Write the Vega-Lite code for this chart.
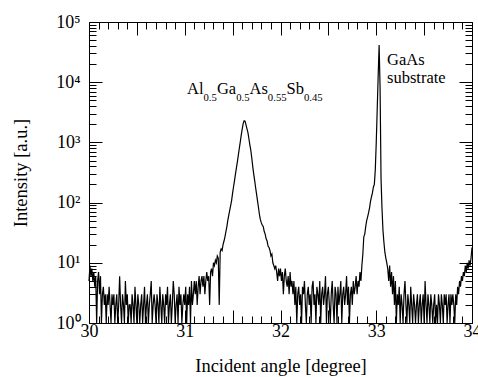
{
"$schema":"https://vega.github.io/schema/vega-lite/v6.json",
"autosize":"none",
"width":383,"height":301,
"padding":{"left":89,"top":22,"right":6,"bottom":54},
"background":"white",
"config":{"font":"Liberation Serif","view":{"stroke":null},"text":{"font":"Liberation Serif"},"axis":{"labelFont":"Liberation Serif","titleFont":"Liberation Serif"}},
"datasets":{
"xrd":[
{"angle":30.00,"intensity":5},{"angle":30.01,"intensity":9},{"angle":30.02,"intensity":6},{"angle":30.03,"intensity":8},{"angle":30.04,"intensity":5},{"angle":30.05,"intensity":7},{"angle":30.06,"intensity":4},{"angle":30.07,"intensity":6},{"angle":30.08,"intensity":1},{"angle":30.09,"intensity":5},
{"angle":30.10,"intensity":7},{"angle":30.11,"intensity":3},{"angle":30.12,"intensity":6},{"angle":30.13,"intensity":1},{"angle":30.14,"intensity":3},{"angle":30.15,"intensity":4},{"angle":30.16,"intensity":2},{"angle":30.17,"intensity":3},{"angle":30.18,"intensity":1},{"angle":30.19,"intensity":3},
{"angle":30.20,"intensity":2},{"angle":30.21,"intensity":4},{"angle":30.22,"intensity":2},{"angle":30.23,"intensity":1},{"angle":30.24,"intensity":3},{"angle":30.25,"intensity":2},{"angle":30.26,"intensity":3},{"angle":30.27,"intensity":1},{"angle":30.28,"intensity":2},{"angle":30.29,"intensity":3},
{"angle":30.30,"intensity":1},{"angle":30.31,"intensity":2},{"angle":30.32,"intensity":6},{"angle":30.33,"intensity":2},{"angle":30.34,"intensity":1},{"angle":30.35,"intensity":3},{"angle":30.36,"intensity":2},{"angle":30.37,"intensity":1},{"angle":30.38,"intensity":5},{"angle":30.39,"intensity":2},
{"angle":30.40,"intensity":3},{"angle":30.41,"intensity":1},{"angle":30.42,"intensity":2},{"angle":30.43,"intensity":2},{"angle":30.44,"intensity":1},{"angle":30.45,"intensity":3},{"angle":30.46,"intensity":2},{"angle":30.47,"intensity":1},{"angle":30.48,"intensity":4},{"angle":30.49,"intensity":2},
{"angle":30.50,"intensity":1},{"angle":30.51,"intensity":3},{"angle":30.52,"intensity":2},{"angle":30.53,"intensity":1},{"angle":30.54,"intensity":2},{"angle":30.55,"intensity":3},{"angle":30.56,"intensity":1},{"angle":30.57,"intensity":2},{"angle":30.58,"intensity":4},{"angle":30.59,"intensity":1},
{"angle":30.60,"intensity":2},{"angle":30.61,"intensity":3},{"angle":30.62,"intensity":1},{"angle":30.63,"intensity":2},{"angle":30.64,"intensity":3},{"angle":30.65,"intensity":5},{"angle":30.66,"intensity":1},{"angle":30.67,"intensity":2},{"angle":30.68,"intensity":3},{"angle":30.69,"intensity":2},
{"angle":30.70,"intensity":1},{"angle":30.71,"intensity":3},{"angle":30.72,"intensity":2},{"angle":30.73,"intensity":1},{"angle":30.74,"intensity":4},{"angle":30.75,"intensity":2},{"angle":30.76,"intensity":1},{"angle":30.77,"intensity":3},{"angle":30.78,"intensity":2},{"angle":30.79,"intensity":1},
{"angle":30.80,"intensity":3},{"angle":30.81,"intensity":2},{"angle":30.82,"intensity":4},{"angle":30.83,"intensity":1},{"angle":30.84,"intensity":2},{"angle":30.85,"intensity":3},{"angle":30.86,"intensity":1},{"angle":30.87,"intensity":2},{"angle":30.88,"intensity":5},{"angle":30.89,"intensity":3},
{"angle":30.90,"intensity":1},{"angle":30.91,"intensity":2},{"angle":30.92,"intensity":3},{"angle":30.93,"intensity":1},{"angle":30.94,"intensity":4},{"angle":30.95,"intensity":2},{"angle":30.96,"intensity":3},{"angle":30.97,"intensity":1},{"angle":30.98,"intensity":2},{"angle":30.99,"intensity":3},
{"angle":31.00,"intensity":2},{"angle":31.01,"intensity":4},{"angle":31.02,"intensity":1},{"angle":31.03,"intensity":3},{"angle":31.04,"intensity":2},{"angle":31.05,"intensity":4},{"angle":31.06,"intensity":1},{"angle":31.07,"intensity":5},{"angle":31.08,"intensity":2},{"angle":31.09,"intensity":3},
{"angle":31.10,"intensity":5},{"angle":31.11,"intensity":3},{"angle":31.12,"intensity":5},{"angle":31.13,"intensity":2},{"angle":31.14,"intensity":4},{"angle":31.15,"intensity":6},{"angle":31.16,"intensity":3},{"angle":31.17,"intensity":5},{"angle":31.18,"intensity":6},{"angle":31.19,"intensity":4},
{"angle":31.20,"intensity":6},{"angle":31.21,"intensity":3},{"angle":31.22,"intensity":5},{"angle":31.23,"intensity":7},{"angle":31.24,"intensity":5},{"angle":31.25,"intensity":6},{"angle":31.26,"intensity":2},{"angle":31.27,"intensity":7},{"angle":31.28,"intensity":8},{"angle":31.29,"intensity":6},
{"angle":31.30,"intensity":10},{"angle":31.31,"intensity":9},{"angle":31.32,"intensity":11},{"angle":31.33,"intensity":10},{"angle":31.34,"intensity":13},{"angle":31.35,"intensity":12},{"angle":31.36,"intensity":2},{"angle":31.37,"intensity":15},{"angle":31.38,"intensity":17},{"angle":31.39,"intensity":16},
{"angle":31.40,"intensity":20},{"angle":31.41,"intensity":23},{"angle":31.42,"intensity":27},{"angle":31.43,"intensity":33},{"angle":31.44,"intensity":40},{"angle":31.45,"intensity":51},{"angle":31.46,"intensity":62},{"angle":31.47,"intensity":75},{"angle":31.48,"intensity":90},{"angle":31.49,"intensity":110},
{"angle":31.50,"intensity":145},{"angle":31.51,"intensity":185},{"angle":31.52,"intensity":234},{"angle":31.53,"intensity":300},{"angle":31.54,"intensity":380},{"angle":31.55,"intensity":480},{"angle":31.56,"intensity":620},{"angle":31.57,"intensity":800},{"angle":31.58,"intensity":1020},{"angle":31.59,"intensity":1320},
{"angle":31.60,"intensity":1660},{"angle":31.61,"intensity":2050},{"angle":31.62,"intensity":2290},{"angle":31.63,"intensity":2250},{"angle":31.64,"intensity":1950},{"angle":31.65,"intensity":1680},{"angle":31.66,"intensity":1450},{"angle":31.67,"intensity":1150},{"angle":31.68,"intensity":910},{"angle":31.69,"intensity":740},
{"angle":31.70,"intensity":550},{"angle":31.71,"intensity":400},{"angle":31.72,"intensity":300},{"angle":31.73,"intensity":234},{"angle":31.74,"intensity":178},{"angle":31.75,"intensity":138},{"angle":31.76,"intensity":107},{"angle":31.77,"intensity":83},{"angle":31.78,"intensity":63},{"angle":31.79,"intensity":52},
{"angle":31.80,"intensity":46},{"angle":31.81,"intensity":42},{"angle":31.82,"intensity":40},{"angle":31.83,"intensity":33},{"angle":31.84,"intensity":30},{"angle":31.85,"intensity":25},{"angle":31.86,"intensity":23},{"angle":31.87,"intensity":19},{"angle":31.88,"intensity":18},{"angle":31.89,"intensity":16},
{"angle":31.90,"intensity":13},{"angle":31.91,"intensity":14},{"angle":31.92,"intensity":10},{"angle":31.93,"intensity":9},{"angle":31.94,"intensity":8},{"angle":31.95,"intensity":9},{"angle":31.96,"intensity":7},{"angle":31.97,"intensity":5},{"angle":31.98,"intensity":8},{"angle":31.99,"intensity":6},
{"angle":32.00,"intensity":8},{"angle":32.01,"intensity":5},{"angle":32.02,"intensity":7},{"angle":32.03,"intensity":3},{"angle":32.04,"intensity":6},{"angle":32.05,"intensity":8},{"angle":32.06,"intensity":5},{"angle":32.07,"intensity":4},{"angle":32.08,"intensity":6},{"angle":32.09,"intensity":3},
{"angle":32.10,"intensity":7},{"angle":32.11,"intensity":4},{"angle":32.12,"intensity":5},{"angle":32.13,"intensity":3},{"angle":32.14,"intensity":5},{"angle":32.15,"intensity":2},{"angle":32.16,"intensity":4},{"angle":32.17,"intensity":1},{"angle":32.18,"intensity":3},{"angle":32.19,"intensity":4},
{"angle":32.20,"intensity":2},{"angle":32.21,"intensity":3},{"angle":32.22,"intensity":1},{"angle":32.23,"intensity":4},{"angle":32.24,"intensity":3},{"angle":32.25,"intensity":5},{"angle":32.26,"intensity":2},{"angle":32.27,"intensity":1},{"angle":32.28,"intensity":3},{"angle":32.29,"intensity":4},
{"angle":32.30,"intensity":2},{"angle":32.31,"intensity":3},{"angle":32.32,"intensity":1},{"angle":32.33,"intensity":4},{"angle":32.34,"intensity":5},{"angle":32.35,"intensity":2},{"angle":32.36,"intensity":3},{"angle":32.37,"intensity":1},{"angle":32.38,"intensity":4},{"angle":32.39,"intensity":3},
{"angle":32.40,"intensity":2},{"angle":32.41,"intensity":5},{"angle":32.42,"intensity":1},{"angle":32.43,"intensity":3},{"angle":32.44,"intensity":4},{"angle":32.45,"intensity":2},{"angle":32.46,"intensity":3},{"angle":32.47,"intensity":6},{"angle":32.48,"intensity":1},{"angle":32.49,"intensity":3},
{"angle":32.50,"intensity":4},{"angle":32.51,"intensity":2},{"angle":32.52,"intensity":1},{"angle":32.53,"intensity":3},{"angle":32.54,"intensity":5},{"angle":32.55,"intensity":2},{"angle":32.56,"intensity":1},{"angle":32.57,"intensity":4},{"angle":32.58,"intensity":3},{"angle":32.59,"intensity":1},
{"angle":32.60,"intensity":4},{"angle":32.61,"intensity":2},{"angle":32.62,"intensity":3},{"angle":32.63,"intensity":5},{"angle":32.64,"intensity":1},{"angle":32.65,"intensity":3},{"angle":32.66,"intensity":4},{"angle":32.67,"intensity":2},{"angle":32.68,"intensity":3},{"angle":32.69,"intensity":6},
{"angle":32.70,"intensity":2},{"angle":32.71,"intensity":4},{"angle":32.72,"intensity":1},{"angle":32.73,"intensity":3},{"angle":32.74,"intensity":4},{"angle":32.75,"intensity":2},{"angle":32.76,"intensity":5},{"angle":32.77,"intensity":3},{"angle":32.78,"intensity":4},{"angle":32.79,"intensity":6},
{"angle":32.80,"intensity":3},{"angle":32.81,"intensity":5},{"angle":32.82,"intensity":4},{"angle":32.83,"intensity":7},{"angle":32.84,"intensity":5},{"angle":32.85,"intensity":9},{"angle":32.86,"intensity":14},{"angle":32.87,"intensity":27},{"angle":32.88,"intensity":30},{"angle":32.89,"intensity":40},
{"angle":32.90,"intensity":50},{"angle":32.91,"intensity":58},{"angle":32.92,"intensity":68},{"angle":32.93,"intensity":82},{"angle":32.94,"intensity":105},{"angle":32.95,"intensity":125},{"angle":32.96,"intensity":145},{"angle":32.97,"intensity":180},{"angle":32.98,"intensity":200},{"angle":32.99,"intensity":350},
{"angle":33.00,"intensity":1000},{"angle":33.01,"intensity":3500},{"angle":33.02,"intensity":12500},{"angle":33.03,"intensity":41500},{"angle":33.04,"intensity":8000},{"angle":33.05,"intensity":250},{"angle":33.06,"intensity":80},{"angle":33.07,"intensity":35},{"angle":33.08,"intensity":22},{"angle":33.09,"intensity":15},
{"angle":33.10,"intensity":12},{"angle":33.11,"intensity":10},{"angle":33.12,"intensity":8},{"angle":33.13,"intensity":5},{"angle":33.14,"intensity":9},{"angle":33.15,"intensity":4},{"angle":33.16,"intensity":7},{"angle":33.17,"intensity":3},{"angle":33.18,"intensity":6},{"angle":33.19,"intensity":2},
{"angle":33.20,"intensity":5},{"angle":33.21,"intensity":1},{"angle":33.22,"intensity":3},{"angle":33.23,"intensity":2},{"angle":33.24,"intensity":4},{"angle":33.25,"intensity":1},{"angle":33.26,"intensity":3},{"angle":33.27,"intensity":2},{"angle":33.28,"intensity":1},{"angle":33.29,"intensity":3},
{"angle":33.30,"intensity":5},{"angle":33.31,"intensity":2},{"angle":33.32,"intensity":1},{"angle":33.33,"intensity":3},{"angle":33.34,"intensity":2},{"angle":33.35,"intensity":1},{"angle":33.36,"intensity":4},{"angle":33.37,"intensity":2},{"angle":33.38,"intensity":1},{"angle":33.39,"intensity":3},
{"angle":33.40,"intensity":2},{"angle":33.41,"intensity":1},{"angle":33.42,"intensity":2},{"angle":33.43,"intensity":3},{"angle":33.44,"intensity":1},{"angle":33.45,"intensity":2},{"angle":33.46,"intensity":3},{"angle":33.47,"intensity":1},{"angle":33.48,"intensity":2},{"angle":33.49,"intensity":3},
{"angle":33.50,"intensity":1},{"angle":33.51,"intensity":5},{"angle":33.52,"intensity":2},{"angle":33.53,"intensity":1},{"angle":33.54,"intensity":3},{"angle":33.55,"intensity":2},{"angle":33.56,"intensity":1},{"angle":33.57,"intensity":3},{"angle":33.58,"intensity":2},{"angle":33.59,"intensity":1},
{"angle":33.60,"intensity":2},{"angle":33.61,"intensity":3},{"angle":33.62,"intensity":1},{"angle":33.63,"intensity":2},{"angle":33.64,"intensity":1},{"angle":33.65,"intensity":3},{"angle":33.66,"intensity":2},{"angle":33.67,"intensity":1},{"angle":33.68,"intensity":3},{"angle":33.69,"intensity":2},
{"angle":33.70,"intensity":1},{"angle":33.71,"intensity":3},{"angle":33.72,"intensity":2},{"angle":33.73,"intensity":3},{"angle":33.74,"intensity":1},{"angle":33.75,"intensity":2},{"angle":33.76,"intensity":3},{"angle":33.77,"intensity":1},{"angle":33.78,"intensity":3},{"angle":33.79,"intensity":2},
{"angle":33.80,"intensity":3},{"angle":33.81,"intensity":2},{"angle":33.82,"intensity":1},{"angle":33.83,"intensity":3},{"angle":33.84,"intensity":2},{"angle":33.85,"intensity":4},{"angle":33.86,"intensity":3},{"angle":33.87,"intensity":5},{"angle":33.88,"intensity":4},{"angle":33.89,"intensity":6},
{"angle":33.90,"intensity":5},{"angle":33.91,"intensity":7},{"angle":33.92,"intensity":6},{"angle":33.93,"intensity":9},{"angle":33.94,"intensity":7},{"angle":33.95,"intensity":10},{"angle":33.96,"intensity":8},{"angle":33.97,"intensity":11},{"angle":33.98,"intensity":9},{"angle":33.99,"intensity":12},
{"angle":34.00,"intensity":18}
],
"mainLabels":[
{"label":"Al","angle":31.024,"intensity":6250},
{"label":"Ga","angle":31.336,"intensity":6250},
{"label":"As","angle":31.677,"intensity":6250},
{"label":"Sb","angle":32.063,"intensity":6250},
{"label":"GaAs","angle":33.112,"intensity":19300},
{"label":"substrate","angle":33.112,"intensity":9590}
],
"subLabels":[
{"label":"0.5","angle":31.196,"intensity":4965},
{"label":"0.5","angle":31.537,"intensity":4965},
{"label":"0.55","angle":31.868,"intensity":4965},
{"label":"0.45","angle":32.245,"intensity":4965}
]
},
"layer":[
{
"data":{"name":"xrd"},
"mark":{"type":"line","color":"black","strokeWidth":1,"opacity":0},
"encoding":{
"x":{"field":"angle","type":"quantitative","scale":{"domain":[30,34],"nice":false,"zero":false},
"axis":{"orient":"bottom","values":[30,30.1,30.2,30.3,30.4,30.5,30.6,30.7,30.8,30.9,31,31.1,31.2,31.3,31.4,31.5,31.6,31.7,31.8,31.9,32,32.1,32.2,32.3,32.4,32.5,32.6,32.7,32.8,32.9,33,33.1,33.2,33.3,33.4,33.5,33.6,33.7,33.8,33.9,34],
"labelExpr":"abs(datum.value-round(datum.value))<0.001 ? format(datum.value,'d') : ''",
"tickSize":{"condition":{"test":"abs(datum.value*2-round(datum.value*2))<0.001","value":-13},"value":-7},
"tickColor":"black","tickWidth":1,"domainColor":"black","domainWidth":1,"grid":false,
"labelFont":"Liberation Serif","labelFontSize":18,"labelColor":"black","labelPadding":12,"labelFlush":false,"labelOverlap":false,"labelBound":false,
"title":"Incident angle [degree]","titleFont":"Liberation Serif","titleFontSize":18.5,"titleFontWeight":"normal","titleColor":"black","titlePadding":10}},
"y":{"field":"intensity","type":"quantitative","scale":{"type":"log","domain":[1,100000],"nice":false},
"axis":{"orient":"left","values":[1,2,3,4,5,6,7,8,9,10,20,30,40,50,60,70,80,90,100,200,300,400,500,600,700,800,900,1000,2000,3000,4000,5000,6000,7000,8000,9000,10000,20000,30000,40000,50000,60000,70000,80000,90000,100000],
"labelExpr":"datum.value==1?'10⁰':datum.value==10?'10¹':datum.value==100?'10²':datum.value==1000?'10³':datum.value==10000?'10⁴':datum.value==100000?'10⁵':''",
"tickSize":{"condition":{"test":"datum.value==1||datum.value==10||datum.value==100||datum.value==1000||datum.value==10000||datum.value==100000","value":-13},"value":-7},
"tickColor":"black","tickWidth":1,"domainColor":"black","domainWidth":1,"grid":false,
"labelFont":"Liberation Serif","labelFontSize":18,"labelColor":"black","labelPadding":22,"labelFlush":false,"labelOverlap":false,"labelBound":false,
"title":"Intensity [a.u.]","titleFont":"Liberation Serif","titleFontSize":18.5,"titleFontWeight":"normal","titleColor":"black","titlePadding":25}}
}
},
{
"data":{"name":"xrd"},
"mark":{"type":"line","color":"black","strokeWidth":1.2},
"encoding":{
"x":{"field":"angle","type":"quantitative","scale":{"domain":[30,34],"nice":false,"zero":false},
"axis":{"orient":"top","values":[30,30.1,30.2,30.3,30.4,30.5,30.6,30.7,30.8,30.9,31,31.1,31.2,31.3,31.4,31.5,31.6,31.7,31.8,31.9,32,32.1,32.2,32.3,32.4,32.5,32.6,32.7,32.8,32.9,33,33.1,33.2,33.3,33.4,33.5,33.6,33.7,33.8,33.9,34],
"labels":false,"title":null,
"tickSize":{"condition":{"test":"abs(datum.value*2-round(datum.value*2))<0.001","value":-13},"value":-7},
"tickColor":"black","tickWidth":1,"domainColor":"black","domainWidth":1,"grid":false}},
"y":{"field":"intensity","type":"quantitative","scale":{"type":"log","domain":[1,100000],"nice":false},
"axis":{"orient":"right","values":[1,2,3,4,5,6,7,8,9,10,20,30,40,50,60,70,80,90,100,200,300,400,500,600,700,800,900,1000,2000,3000,4000,5000,6000,7000,8000,9000,10000,20000,30000,40000,50000,60000,70000,80000,90000,100000],
"labels":false,"title":null,
"tickSize":{"condition":{"test":"datum.value==1||datum.value==10||datum.value==100||datum.value==1000||datum.value==10000||datum.value==100000","value":-13},"value":-7},
"tickColor":"black","tickWidth":1,"domainColor":"black","domainWidth":1,"grid":false}}
}
},
{
"data":{"name":"mainLabels"},
"mark":{"type":"text","align":"left","baseline":"alphabetic","fontSize":16.5,"color":"black","font":"Liberation Serif"},
"encoding":{
"x":{"field":"angle","type":"quantitative","axis":null},
"y":{"field":"intensity","type":"quantitative","axis":null},
"text":{"field":"label"}
}
},
{
"data":{"name":"subLabels"},
"mark":{"type":"text","align":"left","baseline":"alphabetic","fontSize":10.7,"color":"black","font":"Liberation Serif"},
"encoding":{
"x":{"field":"angle","type":"quantitative","axis":null},
"y":{"field":"intensity","type":"quantitative","axis":null},
"text":{"field":"label"}
}
}
],
"resolve":{"axis":{"x":"independent","y":"independent"}}
}
